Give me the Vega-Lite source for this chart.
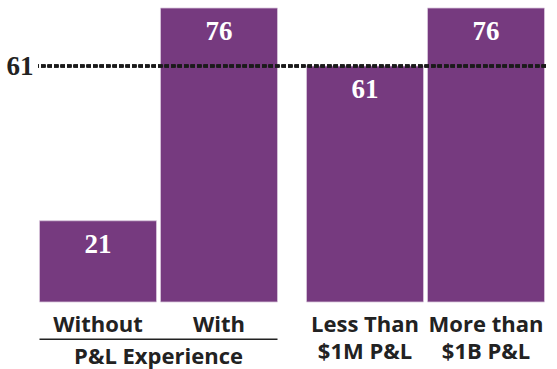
{
  "$schema": "https://vega.github.io/schema/vega-lite/v6.json",
  "width": 508,
  "height": 369,
  "autosize": "none",
  "padding": {"left": 38, "right": 11, "top": 0, "bottom": 0},
  "background": "white",
  "config": {"view": {"stroke": null}},
  "datasets": {
    "bars": [
      {"group": "P&L Experience", "sub": "first", "label": "Without", "value": 21},
      {"group": "P&L Experience", "sub": "second", "label": "With", "value": 76},
      {"group": "Revenue", "sub": "first", "label": "Less Than\n$1M P&L", "value": 61},
      {"group": "Revenue", "sub": "second", "label": "More than\n$1B P&L", "value": 76}
    ],
    "groups": [
      {"group": "P&L Experience", "title": "P&L Experience"}
    ]
  },
  "layer": [
    {
      "data": {"name": "bars"},
      "mark": {"type": "bar", "color": "#763a7f", "stroke": "#d9c6dc", "strokeWidth": 0.8},
      "encoding": {
        "x": {"field": "group", "type": "nominal", "sort": null, "axis": null,
              "scale": {"paddingInner": 0.1086, "paddingOuter": 0.0056}},
        "xOffset": {"field": "sub", "type": "nominal", "sort": null,
                    "scale": {"paddingInner": 0.033, "paddingOuter": 0}},
        "y": {"field": "value", "type": "quantitative",
              "scale": {"domain": [-17.32, 78.07], "nice": false},
              "axis": {"values": [61], "grid": false, "domain": false, "ticks": false, "title": null,
                       "labelFont": "Liberation Serif", "labelFontSize": 27, "labelFontWeight": "bold",
                       "labelColor": "#222222", "labelPadding": 5}}
      }
    },
    {
      "data": {"name": "bars"},
      "mark": {"type": "text", "color": "white", "font": "Liberation Serif", "fontSize": 27,
               "fontWeight": "bold", "baseline": "alphabetic", "dy": 32},
      "encoding": {
        "x": {"field": "group", "type": "nominal", "sort": null},
        "xOffset": {"field": "sub", "type": "nominal", "sort": null},
        "y": {"field": "value", "type": "quantitative"},
        "text": {"field": "value", "type": "quantitative"}
      }
    },
    {
      "data": {"name": "bars"},
      "mark": {"type": "text", "color": "#222222", "font": "Open Sans", "fontSize": 22,
               "fontWeight": "bold", "baseline": "alphabetic", "lineBreak": "\n", "lineHeight": 27},
      "encoding": {
        "x": {"field": "group", "type": "nominal", "sort": null},
        "xOffset": {"field": "sub", "type": "nominal", "sort": null},
        "y": {"datum": -7.68, "type": "quantitative"},
        "text": {"field": "label", "type": "nominal"}
      }
    },
    {
      "data": {"name": "groups"},
      "mark": {"type": "rect", "color": "#222222"},
      "encoding": {
        "x": {"field": "group", "type": "nominal", "sort": null},
        "y": {"datum": -9.45, "type": "quantitative"},
        "y2": {"datum": -9.85}
      }
    },
    {
      "data": {"name": "groups"},
      "mark": {"type": "text", "color": "#222222", "font": "Open Sans", "fontSize": 22,
               "fontWeight": "bold", "baseline": "alphabetic"},
      "encoding": {
        "x": {"field": "group", "type": "nominal", "sort": null},
        "y": {"datum": -16.0, "type": "quantitative"},
        "text": {"field": "title", "type": "nominal"}
      }
    },
    {
      "data": {"name": "bars"},
      "mark": {"type": "rule", "color": "#1a1a1a", "strokeWidth": 3, "strokeDash": [4.5, 2]},
      "encoding": {
        "y": {"datum": 61, "type": "quantitative"}
      }
    }
  ]
}
